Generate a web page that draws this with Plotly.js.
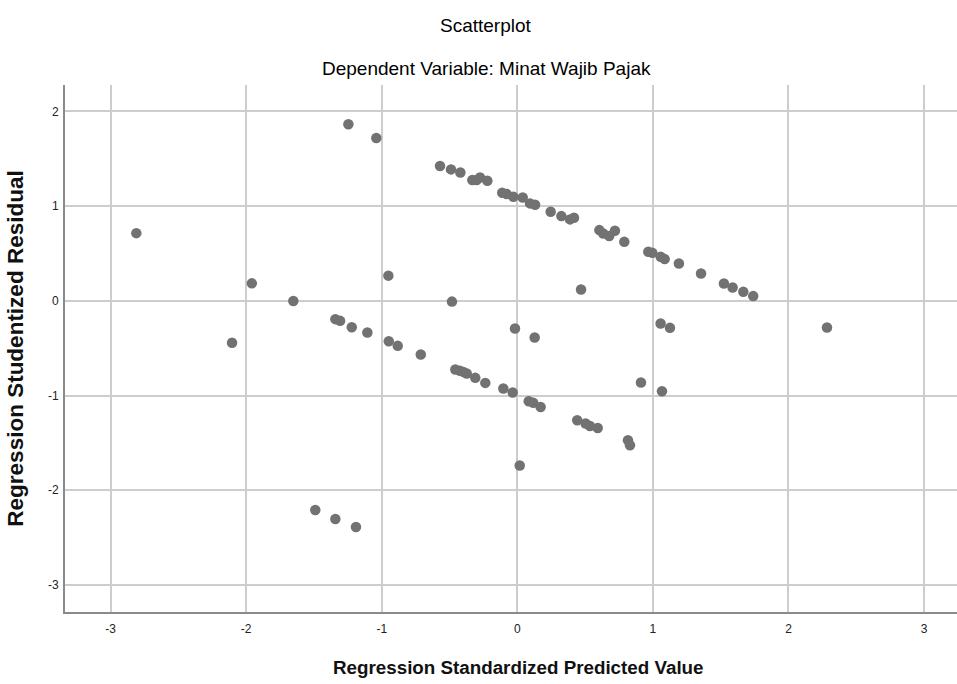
<!DOCTYPE html>
<html><head><meta charset="utf-8">
<script src="https://cdn.plot.ly/plotly-3.0.1.min.js"></script>
<style>html,body{margin:0;padding:0;background:#fff}#chart{width:957px;height:684px}</style>
</head><body><div id="chart"></div>
<script>
const predicted = [
  -2.81, -1.958, -2.104, -1.652, -1.246, -1.040, -0.951, -0.482,
  -0.570, -0.489, -0.420, -0.332, -0.300, -0.275, -0.221, -0.111, -0.078, -0.029, 0.040,
  0.094, 0.131, 0.246, 0.325, 0.389, 0.418, 0.605, 0.634, 0.678, 0.720, 0.789,
  0.966, 0.996, 1.057, 1.087, 1.192, 1.355, 1.524, 1.588, 1.667, 1.740,
  0.470, -1.342, -1.307, -1.221, -1.106, -0.017, 0.128, -0.948, -0.882, -0.712,
  1.057, 1.126, 2.284,
  -0.457, -0.423, -0.398, -0.373, -0.310, -0.236, -0.103, -0.034, 0.084, 0.118, 0.172,
  0.442, 0.504, 0.536, 0.593, 0.018, -1.490, -1.342, -1.190,
  0.912, 1.067, 0.816, 0.831
];
const residual = [
  0.715, 0.185, -0.443, -0.002, 1.864, 1.719, 0.266, -0.008,
  1.423, 1.388, 1.356, 1.275, 1.275, 1.303, 1.268, 1.141, 1.127, 1.099, 1.092,
  1.029, 1.014, 0.940, 0.895, 0.860, 0.877, 0.747, 0.712, 0.684, 0.740, 0.623,
  0.518, 0.507, 0.465, 0.441, 0.395, 0.289, 0.184, 0.141, 0.095, 0.050,
  0.120, -0.193, -0.211, -0.278, -0.334, -0.292, -0.387, -0.426, -0.475, -0.566,
  -0.239, -0.285, -0.281,
  -0.725, -0.739, -0.750, -0.767, -0.813, -0.866, -0.925, -0.968, -1.060, -1.077, -1.120,
  -1.260, -1.295, -1.321, -1.342, -1.739, -2.208, -2.303, -2.387,
  -0.862, -0.954, -1.472, -1.525
];
const tickVals = [-3, -2, -1, 0, 1, 2, 3];
const chartTitle = "Scatterplot";
const chartSubtitle = "Dependent Variable: Minat Wajib Pajak";
const xTitle = "Regression Standardized Predicted Value";
const yTitle = "Regression Studentized Residual";

const font = "Arial, 'Liberation Sans', sans-serif";
Plotly.newPlot("chart", [{
  x: predicted, y: residual, type: "scatter", mode: "markers",
  marker: {color: "#727272", size: 10.5},
  hoverinfo: "x+y"
}], {
  width: 957, height: 684,
  paper_bgcolor: "#fff", plot_bgcolor: "#fff",
  margin: {l: 65, r: 0, t: 85, b: 72},
  showlegend: false,
  font: {family: font, color: "#222"},
  xaxis: {
    range: [-3.336, 3.243], tickvals: tickVals, ticktext: tickVals.map(String),
    showgrid: true, gridcolor: "#cdcdcd", gridwidth: 1.5, zeroline: false,
    showline: true, linecolor: "#8a8a8a", linewidth: 2, mirror: false,
    ticks: "", tickfont: {size: 12, color: "#222"}, ticklabelstandoff: 5
  },
  yaxis: {
    range: [-3.285, 2.279], tickvals: tickVals, ticktext: tickVals.map(String),
    showgrid: true, gridcolor: "#cdcdcd", gridwidth: 1.5, zeroline: false,
    showline: true, linecolor: "#8a8a8a", linewidth: 2,
    ticks: "", tickfont: {size: 12, color: "#222"}, ticklabelstandoff: 2,
    title: {text: yTitle, font: {size: 22.5, family: font, color: "#111", weight: "bold"}, standoff: 18}
  },
  annotations: [
    {text: chartTitle, xref: "paper", yref: "paper", x: 0.5, y: 1, xshift: -25, yshift: 60, showarrow: false,
     font: {size: 19, family: font, color: "#000"}, xanchor: "center", yanchor: "middle"},
    {text: chartSubtitle, xref: "paper", yref: "paper", x: 0.5, y: 1, xshift: -25, yshift: 17, showarrow: false,
     font: {size: 19, family: font, color: "#000"}, xanchor: "center", yanchor: "middle"},
    {text: "<b>" + xTitle + "</b>", xref: "paper", yref: "paper", x: 0.508, y: 0, yshift: -55, showarrow: false,
     font: {size: 18.8, family: font, color: "#111"}, xanchor: "center", yanchor: "middle"}
  ]
}, {displayModeBar: false});
</script></body></html>
